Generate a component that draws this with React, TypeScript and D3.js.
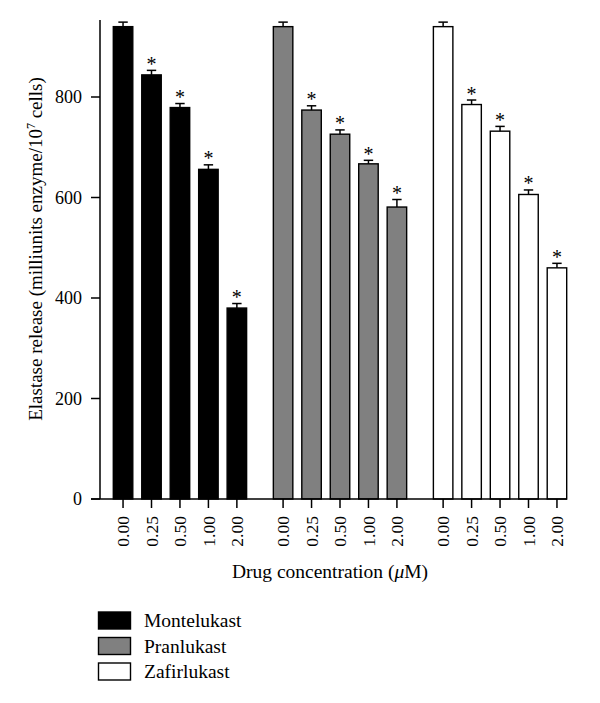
import React from "react";
import * as d3 from "d3";

const drugs = ["Montelukast", "Pranlukast", "Zafirlukast"];
const concentrations = ["0.00", "0.25", "0.50", "1.00", "2.00"];
const montelukastValues = [940, 844, 779, 656, 380];
const montelukastErrors = [9, 9, 8, 9, 9];
const pranlukastValues = [940, 774, 726, 667, 581];
const pranlukastErrors = [9, 8.5, 8.5, 7, 15];
const zafirlukastValues = [940, 785, 732, 606, 460];
const zafirlukastErrors = [9, 9, 9.5, 9, 9];
const significant = [false, true, true, true, true];
const fills = ["#000000", "#808080", "#ffffff"];
const yTicks = [0, 200, 400, 600, 800];

const values = [montelukastValues, pranlukastValues, zafirlukastValues];
const errors = [montelukastErrors, pranlukastErrors, zafirlukastErrors];

const FONT = "'Liberation Serif', 'Times New Roman', serif";

export default function App() {
  const W = 600, H = 703;
  const y = d3.scaleLinear().domain([0, 800]).range([499, 97]);
  const xOuter = d3.scaleBand<string>().domain(drugs).range([113.3, 566.7]).paddingInner(0.167).paddingOuter(0);
  const xInner = d3.scaleBand<string>().domain(concentrations).range([0, xOuter.bandwidth()]).paddingInner(0.315).paddingOuter(0);
  const bw = xInner.bandwidth();
  const axisX = 100;
  const axisY = y(0);

  return (
    <svg width={W} height={H} style={{ position: "absolute", left: 0, top: 0, background: "#fff" }} fontFamily={FONT}>
      {drugs.map((d, gi) =>
        concentrations.map((c, i) => {
          const x0 = (xOuter(d) ?? 0) + (xInner(c) ?? 0);
          const v = values[gi][i];
          const e = errors[gi][i];
          const cx = x0 + bw / 2;
          const top = y(v);
          const errTop = y(v + e);
          return (
            <g key={d + c}>
              <rect x={x0} y={top} width={bw} height={axisY - top} fill={fills[gi]} stroke="#000" strokeWidth={1.4} />
              <line x1={cx} x2={cx} y1={top} y2={errTop} stroke="#000" strokeWidth={1.5} />
              <line x1={cx - 4.7} x2={cx + 4.7} y1={errTop} y2={errTop} stroke="#000" strokeWidth={1.5} />
              {significant[i] && (
                <text x={cx} y={errTop + 0.5} textAnchor="middle" fontSize={20} fill="#000">*</text>
              )}
            </g>
          );
        })
      )}
      <line x1={axisX} x2={axisX} y1={20} y2={axisY} stroke="#000" strokeWidth={1.5} />
      {yTicks.map((t) => (
        <g key={t}>
          <line x1={axisX - 9} x2={axisX} y1={y(t)} y2={y(t)} stroke="#000" strokeWidth={1.5} />
          <text x={axisX - 18} y={y(t)} dy="0.35em" textAnchor="end" fontSize={18}>{t}</text>
        </g>
      ))}
      <line x1={91} x2={567} y1={axisY} y2={axisY} stroke="#000" strokeWidth={1.5} />
      {drugs.map((d) =>
        concentrations.map((c) => {
          const cx = (xOuter(d) ?? 0) + (xInner(c) ?? 0) + bw / 2;
          return (
            <g key={"t" + d + c}>
              <line x1={cx} x2={cx} y1={axisY} y2={axisY + 9} stroke="#000" strokeWidth={1.5} />
              <text transform={`translate(${cx},${axisY + 17}) rotate(-90)`} textAnchor="end" dy="0.35em" fontSize={17.5}>{c}</text>
            </g>
          );
        })
      )}
      <text x={330} y={578} textAnchor="middle" fontSize={19.5}>
        Drug concentration (<tspan fontStyle="italic">μ</tspan>M)
      </text>
      <text transform={`translate(42,249) rotate(-90)`} textAnchor="middle" fontSize={19}>
        Elastase release (milliunits enzyme/10<tspan dy={-7.5} fontSize={12}>7</tspan><tspan dy={7.5}> cells)</tspan>
      </text>
      {drugs.map((d, i) => (
        <g key={"l" + d} transform={`translate(98.5,${612 + i * 25.5})`}>
          <rect x={0} y={0} width={32} height={17} fill={fills[i]} stroke="#000" strokeWidth={1.4} />
          <text x={45.5} y={15} fontSize={19.5}>{d}</text>
        </g>
      ))}
    </svg>
  );
}
